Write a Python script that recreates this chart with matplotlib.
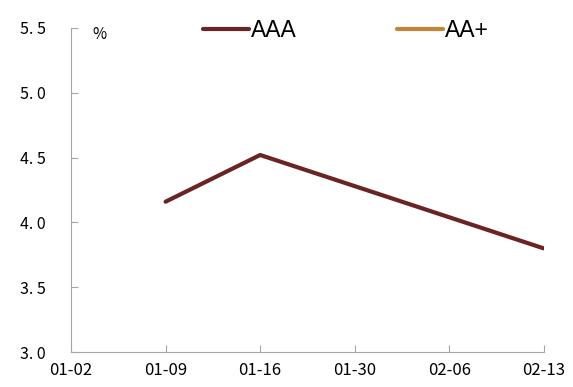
import matplotlib
matplotlib.use("Agg")
import matplotlib.pyplot as plt
import numpy as np

dates = ["01-02", "01-09", "01-16", "01-30", "02-06", "02-13"]
aaa = [np.nan, 4.16, 4.52, 4.28, 4.04, 3.80]
aa_plus = [np.nan, np.nan, np.nan, np.nan, np.nan, np.nan]
y_ticks = [3.0, 3.5, 4.0, 4.5, 5.0, 5.5]

plt.rcParams['font.family'] = ['Noto Sans CJK SC', 'DejaVu Sans']

fig = plt.figure(figsize=(5.73, 3.87), dpi=100)
ax = fig.add_axes([0.124, 0.090, 0.825, 0.838])

x = np.arange(len(dates))
ax.plot(x, aaa, color='#6B2424', lw=3, solid_capstyle='round', label='AAA')
ax.plot(x, aa_plus, color='#C0843A', lw=3, solid_capstyle='round', label='AA+')

ax.set_xlim(0, len(dates) - 1)
ax.set_ylim(3.0, 5.5)
ax.set_xticks(x)
ax.set_xticklabels(dates, fontsize=12)
ax.set_yticks(y_ticks)
ax.set_yticklabels([f"{v:.1f}".replace('.', '. ') for v in y_ticks], fontsize=11.5)
ax.tick_params(axis='both', direction='in', length=5, color='#A6A6A6', width=0.8)
ax.tick_params(axis='y', pad=18)
ax.tick_params(axis='x', pad=7)

for side in ['top', 'right']:
    ax.spines[side].set_visible(False)
for side in ['left', 'bottom']:
    ax.spines[side].set_color('#A6A6A6')
    ax.spines[side].set_linewidth(0.8)

ax.text(0.045, 1.005, '%', transform=ax.transAxes, fontsize=11, va='top', ha='left')

leg = fig.legend(loc='center', bbox_to_anchor=(0.604, 0.922), ncol=2, frameon=False,
                 handlelength=2.0, columnspacing=4.35, handletextpad=0.1,
                 prop={'family': 'Liberation Sans', 'size': 16.5})

fig.savefig('out.png', dpi=100)
